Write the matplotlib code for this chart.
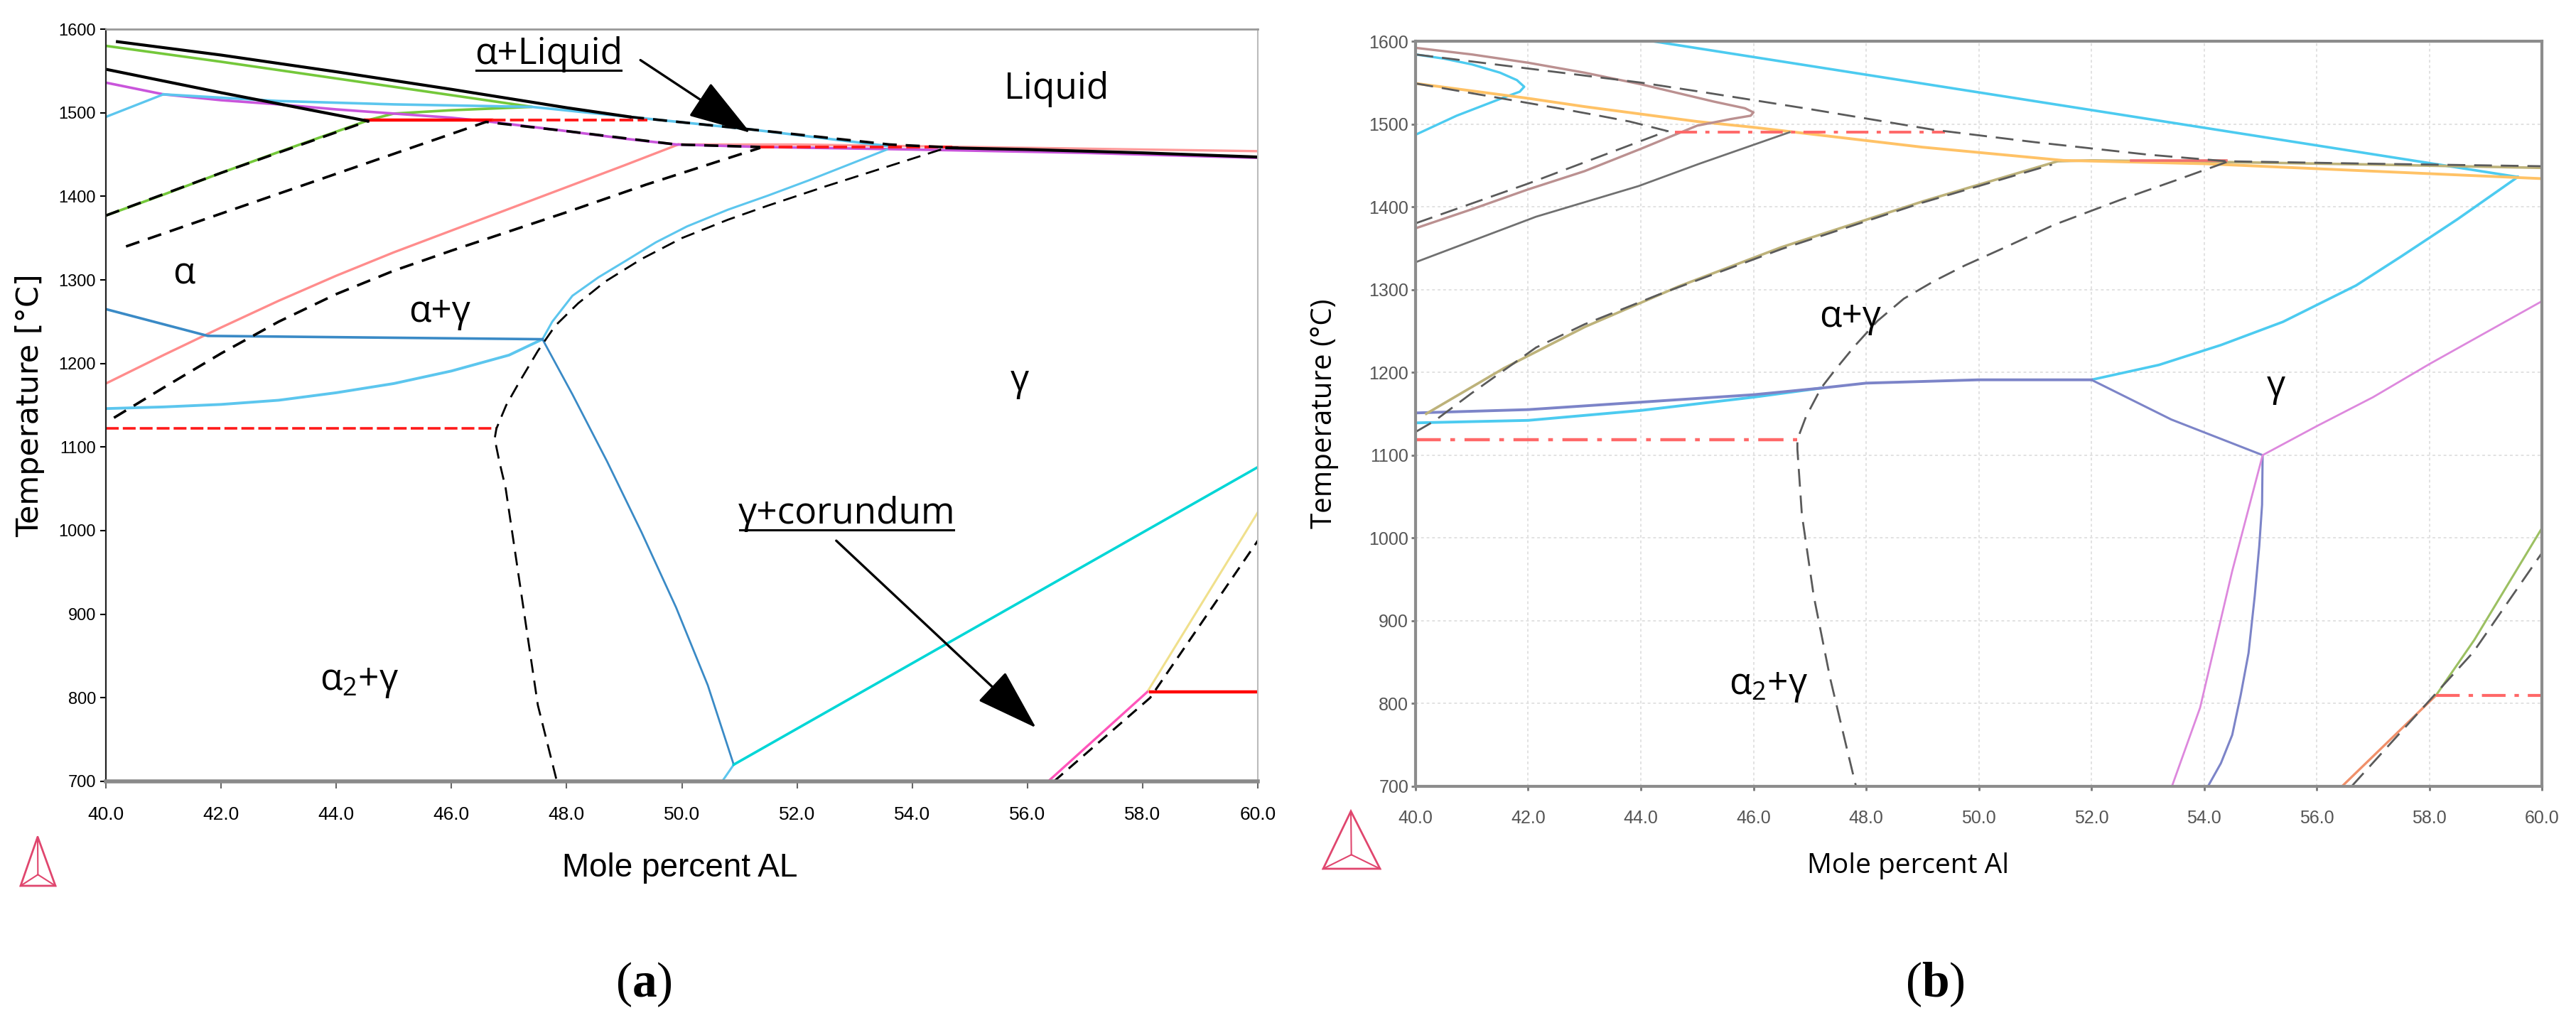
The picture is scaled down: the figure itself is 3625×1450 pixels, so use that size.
import numpy as np
import matplotlib.pyplot as plt
from matplotlib.lines import Line2D
from matplotlib.patches import Polygon

# fonts: labels in Open Sans, tick text narrow Arial-like
plt.rcParams['mathtext.fontset'] = 'custom'
plt.rcParams['mathtext.rm'] = 'Open Sans'
plt.rcParams['mathtext.it'] = 'Open Sans:italic'
plt.rcParams['mathtext.bf'] = 'Liberation Serif:bold'

# ---------------- data, panel (a) ----------------
x_ticks = [40, 42, 44, 46, 48, 50, 52, 54, 56, 58, 60]
x_ticklabels = ['40.0', '42.0', '44.0', '46.0', '48.0', '50.0', '52.0', '54.0', '56.0', '58.0', '60.0']
t_ticks = [700, 800, 900, 1000, 1100, 1200, 1300, 1400, 1500, 1600]
t_ticklabels = ['700', '800', '900', '1000', '1100', '1200', '1300', '1400', '1500', '1600']

a_liq_x = [40.2, 42, 44, 46, 48, 49.1]
a_liq_t = [1585, 1569, 1549, 1528, 1506, 1495]
a_liqdash_x = [49.1, 51.2, 53.6, 54.8]
a_liqdash_t = [1495, 1480, 1462, 1458]
a_flat_x = [54.6, 56, 58, 60]
a_flat_t = [1458, 1456, 1452, 1447]

a_green_x = [40, 42, 44, 46, 47.4, 46, 45, 44.6, 43, 42, 41, 40]
a_green_t = [1580, 1561, 1541, 1521, 1507, 1503, 1499, 1492, 1453, 1428, 1402, 1377]

a_black2_x = [40, 42, 44.55]
a_black2_t = [1552, 1524, 1490]
a_dash1_x = [40, 42, 44.55]
a_dash1_t = [1377, 1428, 1490]
a_dash2_x = [40.35, 43.54, 46.6, 48, 49.9, 51.36]
a_dash2_t = [1340, 1416, 1489, 1478, 1462, 1459]
a_dash3_x = [40.14, 41, 42, 43, 44, 45, 46, 47, 48, 49.38, 51.36]
a_dash3_t = [1135, 1171, 1212, 1250, 1283, 1311, 1335, 1358, 1381, 1414, 1458]
a_dash4_x = [54.5, 53.5, 52.5, 51.5, 50.8, 50.0, 49.3, 48.67, 48.2, 47.8, 47.5, 47.18, 46.95, 46.78,
             46.75, 46.83, 46.94, 47.22, 47.5, 47.83]
a_dash4_t = [1456, 1434, 1412, 1389, 1372, 1350, 1325, 1298, 1272, 1245, 1215, 1178, 1150, 1122,
             1110, 1083, 1051, 921, 791, 700]

a_mag_x = [40, 41, 42, 43, 44, 45, 46, 46.7, 48, 49, 49.9, 51.4, 54, 57, 60]
a_mag_t = [1536, 1522, 1515, 1510, 1504, 1499, 1494, 1489, 1478, 1469, 1462, 1459, 1456, 1452, 1446]

a_cyan1_x = [40, 41]
a_cyan1_t = [1495, 1522]
a_cyan2_x = [41, 43, 45, 47.4, 49.1, 51.2, 53.6]
a_cyan2_t = [1522, 1514, 1510, 1507, 1495, 1480, 1460]
a_cyan3_x = [53.56, 52.9, 52.2, 51.5, 50.8, 50.09, 49.55, 49.03, 48.55, 48.1, 47.75, 47.58]
a_cyan3_t = [1456, 1438, 1419, 1401, 1384, 1364, 1345, 1323, 1303, 1281, 1250, 1229]
a_cyan4_x = [40, 41, 42, 43, 44, 45, 46, 47, 47.58]
a_cyan4_t = [1146, 1148, 1151, 1156, 1165, 1176, 1191, 1210, 1229]
a_cyan5_x = [50.9, 50.7]
a_cyan5_t = [720, 700]

a_blue1_x = [40, 41.77, 47.58]
a_blue1_t = [1265, 1233, 1229]
a_blue2_x = [47.58, 48.1, 48.7, 49.3, 49.9, 50.45, 50.9]
a_blue2_t = [1229, 1163, 1083, 998, 908, 815, 720]
a_teal_x = [50.9, 60]
a_teal_t = [720, 1076]

a_pink_x = [40, 41, 42, 43, 44, 45, 46, 47, 48, 49, 49.94]
a_pink_t = [1176, 1210, 1243, 1275, 1305, 1333, 1359, 1385, 1411, 1437, 1462]
a_salmon_x = [49.94, 52, 54, 57, 60]
a_salmon_t = [1462, 1462, 1460, 1457, 1454]

a_red1_x = [44.5, 46.7]
a_red1_t = [1491, 1491]
a_red2_x = [46.7, 49.4]
a_red2_t = [1491, 1491]
a_red3_x = [51.36, 54.7]
a_red3_t = [1459, 1459]
a_red4_x = [40, 46.8]
a_red4_t = [1122, 1122]
a_red5_x = [58.13, 60]
a_red5_t = [807, 807]

a_hotpink_x = [56.36, 58.08]
a_hotpink_t = [700, 807]
a_dash5_x = [56.46, 58.13, 60]
a_dash5_t = [700, 800, 988]
a_khaki_x = [58.08, 60]
a_khaki_t = [807, 1022]

# ---------------- data, panel (b) ----------------
b_cyan1_x = [44.21, 59.57]
b_cyan1_t = [1600, 1436]
b_cyan2_x = [52.0, 53.2, 54.3, 55.4, 56.7, 57.5, 58.5, 59.57]
b_cyan2_t = [1191, 1209, 1233, 1261, 1305, 1340, 1385, 1436]
b_cyan3_x = [40, 40.5, 41, 41.5, 41.8, 41.93, 41.85, 41.53, 40.73, 40]
b_cyan3_t = [1584, 1579, 1572, 1562, 1553, 1545, 1539, 1531, 1510, 1487]
b_cyan4_x = [40, 42, 44, 46, 47.2]
b_cyan4_t = [1139, 1142, 1154, 1170, 1181]

b_slate1_x = [40, 42, 44, 46, 47.2, 48, 50, 52]
b_slate1_t = [1151, 1155, 1164, 1173, 1181, 1187, 1191, 1191]
b_slate2_x = [52, 53.42, 55.04, 55.03, 54.98, 54.9, 54.79, 54.65, 54.5, 54.3, 54.07]
b_slate2_t = [1191, 1143, 1100, 1040, 990, 930, 861, 810, 762, 728, 700]
b_orchid_x = [53.43, 53.93, 54.5, 55.04, 56, 57, 58, 59, 60]
b_orchid_t = [700, 795, 960, 1100, 1135, 1170, 1210, 1248, 1286]

b_olive_x = [40.19, 41.57, 43.01, 44.68, 46.49, 49.03, 51.4, 52, 54.4, 57, 60]
b_olive_t = [1150, 1205, 1255, 1304, 1351, 1407, 1455, 1456, 1454, 1451, 1447]
b_orange_x = [40, 41, 42, 43, 44, 45, 46, 47, 49, 51.5, 54, 56, 58, 60]
b_orange_t = [1549, 1540, 1531, 1521, 1512, 1503, 1496, 1488, 1472, 1456, 1452, 1446, 1440, 1434]
b_brown_x = [40, 41, 42, 43, 44, 45, 45.6, 45.95, 46.0, 45.85, 45.3, 44, 43, 42, 41, 40]
b_brown_t = [1374, 1397, 1421, 1443, 1470, 1498, 1506, 1510, 1514, 1519, 1527, 1548, 1562, 1574, 1584, 1592]
b_gray_x = [40, 42.14, 43.96, 45.04, 46.64]
b_gray_t = [1333, 1388, 1425, 1452, 1490]

b_dash1_x = [40, 42, 44.45]
b_dash1_t = [1380, 1428, 1491]
b_dash2_x = [40, 42.62, 43.26, 43.8, 44.5]
b_dash2_t = [1549, 1518, 1510, 1503, 1491]
b_dash3_x = [40, 42, 44, 45.15, 47, 49.2, 51, 53, 54.4, 57, 60]
b_dash3_t = [1584, 1567, 1550, 1538, 1518, 1493, 1478, 1463, 1455, 1452, 1449]
b_dash4_x = [40.0, 40.33, 41, 42.14, 43, 44.32, 46.5, 49, 51.3]
b_dash4_t = [1128, 1141, 1175, 1230, 1258, 1294, 1349, 1405, 1451]
b_dash5_x = [54.4, 53.5, 52.5, 51.33, 50.5, 49.75, 49.2, 48.67, 48.2, 47.8, 47.45, 47.2, 46.93, 46.78,
             46.78, 46.86, 47.07, 47.36, 47.65, 47.82]
b_dash5_t = [1454, 1432, 1408, 1378, 1352, 1329, 1310, 1289, 1262, 1232, 1203, 1181, 1146, 1119,
             1107, 1028, 930, 831, 748, 700]
b_dash6_x = [56.62, 58.78, 60]
b_dash6_t = [700, 862, 982]

b_red1_x = [44.6, 49.4]
b_red1_t = [1490, 1490]
b_red2_x = [40, 46.78]
b_red2_t = [1119, 1119]
b_red3_x = [52.7, 54.4]
b_red3_t = [1456, 1456]
b_red4_x = [58.12, 60]
b_red4_t = [810, 810]
b_salmon_x = [56.45, 58.12]
b_salmon_t = [700, 810]
b_green_x = [58.12, 58.8, 60]
b_green_t = [810, 877, 1012]

# figure
fig = plt.figure(figsize=(36.25, 14.5), dpi=100)
ax1 = fig.add_axes([0.0411, 0.2414, 0.4472, 0.7303])
ax2 = fig.add_axes([0.5495, 0.2366, 0.4373, 0.7234])

BD = (0, (5.5, 3.5))     # black dashes, panel a
RD = (0, (5, 1.6))       # red dashes, panel a
GD = (0, (9, 4.5))       # grey dashes, panel b
RDD = (0, (8, 3, 1.5, 3))  # red dash-dot, panel b

# ---- panel (a) curves ----
ax1.plot(a_pink_x, a_pink_t, color='#ff8c8c', lw=2.4)
ax1.plot(a_salmon_x, a_salmon_t, color='#ff9a9a', lw=2.4)
ax1.plot(a_green_x, a_green_t, color='#74c83a', lw=2.6)
ax1.plot(a_mag_x, a_mag_t, color='#c955db', lw=2.6)
ax1.plot(a_cyan1_x, a_cyan1_t, color='#5cc6ee', lw=2.4)
ax1.plot(a_cyan2_x, a_cyan2_t, color='#5cc6ee', lw=2.6)
ax1.plot(a_cyan3_x, a_cyan3_t, color='#5cc6ee', lw=2.2)
ax1.plot(a_cyan4_x, a_cyan4_t, color='#5cc6ee', lw=2.8)
ax1.plot(a_cyan5_x, a_cyan5_t, color='#5cc6ee', lw=2.2)
ax1.plot(a_blue1_x, a_blue1_t, color='#3a8ac6', lw=2.6)
ax1.plot(a_blue2_x, a_blue2_t, color='#3a8ac6', lw=2.0)
ax1.plot(a_teal_x, a_teal_t, color='#00d6d6', lw=2.6)
ax1.plot(a_khaki_x, a_khaki_t, color='#f0e08c', lw=2.2)
ax1.plot(a_hotpink_x, a_hotpink_t, color='#ff55bb', lw=2.4)

ax1.plot(a_red1_x, a_red1_t, color='#ff0000', lw=3.2)
ax1.plot(a_red2_x, a_red2_t, color='#ff1a1a', lw=2.8, linestyle=RD)
ax1.plot(a_red3_x, a_red3_t, color='#ff1a1a', lw=2.8, linestyle=RD)
ax1.plot(a_red4_x, a_red4_t, color='#ff1a1a', lw=2.6, linestyle=RD)
ax1.plot(a_red5_x, a_red5_t, color='#ff0000', lw=3.2)

ax1.plot(a_liq_x, a_liq_t, color='black', lw=3.0)
ax1.plot(a_black2_x, a_black2_t, color='black', lw=3.0)
ax1.plot(a_flat_x, a_flat_t, color='black', lw=3.0)
ax1.plot(a_liqdash_x, a_liqdash_t, color='black', lw=2.6, linestyle=BD)
ax1.plot(a_dash1_x, a_dash1_t, color='black', lw=2.6, linestyle=BD)
ax1.plot(a_dash2_x, a_dash2_t, color='black', lw=2.6, linestyle=BD)
ax1.plot(a_dash3_x, a_dash3_t, color='black', lw=2.6, linestyle=BD)
ax1.plot(a_dash4_x, a_dash4_t, color='black', lw=2.0, linestyle=(0, (7, 4)))
ax1.plot(a_dash5_x, a_dash5_t, color='black', lw=2.2, linestyle=BD)

# ---- panel (b) curves ----
ax2.grid(True, color='#e2e2e2', lw=1.4, linestyle=(0, (2, 2)))
ax2.set_axisbelow(True)

ax2.plot(b_cyan1_x, b_cyan1_t, color='#4ccbf0', lw=2.6)
ax2.plot(b_cyan2_x, b_cyan2_t, color='#4ccbf0', lw=2.6)
ax2.plot(b_cyan3_x, b_cyan3_t, color='#4ccbf0', lw=2.4)
ax2.plot(b_cyan4_x, b_cyan4_t, color='#4ccbf0', lw=2.8)
ax2.plot(b_slate1_x, b_slate1_t, color='#7c84c8', lw=2.8)
ax2.plot(b_slate2_x, b_slate2_t, color='#7c84c8', lw=2.2)
ax2.plot(b_orchid_x, b_orchid_t, color='#dd88dd', lw=2.0)
ax2.plot(b_olive_x, b_olive_t, color='#bdb27a', lw=2.6)
ax2.plot(b_orange_x, b_orange_t, color='#ffc266', lw=2.8)
ax2.plot(b_brown_x, b_brown_t, color='#bb9090', lw=2.4)
ax2.plot(b_gray_x, b_gray_t, color='#707070', lw=2.0)
ax2.plot(b_salmon_x, b_salmon_t, color='#f0906a', lw=2.4)
ax2.plot(b_green_x, b_green_t, color='#9cc062', lw=2.2)

ax2.plot(b_red1_x, b_red1_t, color='#ff6868', lw=2.8, linestyle=RDD)
ax2.plot(b_red2_x, b_red2_t, color='#ff6868', lw=3.2, linestyle=RDD)
ax2.plot(b_red3_x, b_red3_t, color='#f07070', lw=2.6)
ax2.plot(b_red4_x, b_red4_t, color='#ff6868', lw=3.0, linestyle=RDD)

for dx, dt in [(b_dash1_x, b_dash1_t), (b_dash2_x, b_dash2_t), (b_dash3_x, b_dash3_t),
               (b_dash4_x, b_dash4_t), (b_dash5_x, b_dash5_t), (b_dash6_x, b_dash6_t)]:
    ax2.plot(dx, dt, color='#5a5a5a', lw=2.0, linestyle=GD)

# ---- axes styling ----
narrow = ['Liberation Sans Narrow', 'Liberation Sans']
for ax in (ax1, ax2):
    ax.set_xlim(40, 60)
    ax.set_ylim(700, 1600)
    ax.set_xticks(x_ticks)
    ax.set_yticks(t_ticks)

ax1.set_xticklabels(x_ticklabels, fontfamily=narrow, fontsize=19)
ax1.set_yticklabels(t_ticklabels, fontfamily=narrow, fontsize=17)
ax1.tick_params(axis='y', length=6, width=1.5, pad=4, color='black')
ax1.tick_params(axis='x', length=7, width=1.5, pad=18, color='#666666')
ax1.spines['left'].set_color('#222222')
ax1.spines['left'].set_linewidth(1.6)
ax1.spines['bottom'].set_color('#8a8a8a')
ax1.spines['bottom'].set_linewidth(4)
ax1.spines['top'].set_color('#999999')
ax1.spines['top'].set_linewidth(2)
ax1.spines['right'].set_color('#bbbbbb')
ax1.spines['right'].set_linewidth(1.5)
ax1.set_ylabel('Temperature [°C]', fontfamily='DejaVu Sans', fontsize=31)
ax1.yaxis.set_label_coords(-0.053, 0.5)
ax1.set_xlabel('Mole percent AL', fontfamily=narrow, fontsize=33)
ax1.xaxis.set_label_coords(0.498, -0.094)

ax2.set_xticklabels(x_ticklabels, fontfamily=narrow, fontsize=18, color='#555555')
ax2.set_yticklabels(t_ticklabels, fontfamily=narrow, fontsize=18, color='#555555')
ax2.tick_params(axis='both', length=4, width=2, color='#777777')
ax2.tick_params(axis='x', pad=20)
ax2.tick_params(axis='y', pad=3)
for s in ax2.spines.values():
    s.set_color('#8c8c8c')
    s.set_linewidth(3)
ax2.set_ylabel('Temperature (°C)', fontfamily='Open Sans', fontsize=29)
ax2.yaxis.set_label_coords(-0.068, 0.5)
ax2.set_xlabel('Mole percent Al', fontfamily='Open Sans', fontsize=28)
ax2.xaxis.set_label_coords(0.437, -0.089)

# ---- phase labels ----
lab = dict(fontfamily='Open Sans', fontsize=37, ha='center', va='center')
t_aliq = ax1.text(47.69, 1570, 'α+Liquid', **lab)
ax1.text(56.5, 1528, 'Liquid', **lab)
ax1.text(41.35, 1307, 'α', **lab)
ax1.text(45.8, 1261, 'α+γ', **lab)
ax1.text(55.87, 1179, 'γ', **lab)
t_cor = ax1.text(52.86, 1020, 'γ+corundum', **lab)
ax1.text(44.4, 819, 'α$_2$+γ', **lab)

ax2.text(47.72, 1267, 'α+γ', **lab)
ax2.text(55.28, 1183, 'γ', **lab)
ax2.text(46.27, 821, 'α$_2$+γ', **lab)

arrow = dict(arrowstyle='-|>,head_length=1.4,head_width=0.45', color='black',
             lw=2.4, mutation_scale=40, shrinkA=0, shrinkB=0)
ax1.annotate('', xy=(51.19, 1476), xytext=(49.28, 1563), arrowprops=arrow)
ax1.annotate('', xy=(56.15, 764), xytext=(52.68, 988), arrowprops=arrow)

# panel captions
cap = dict(fontfamily='Liberation Serif', fontsize=50, ha='center', va='center')
fig.text(0.25, 0.044, r'($\mathbf{a}$)', **cap)
fig.text(0.7512, 0.044, r'($\mathbf{b}$)', **cap)

# small software logos in the lower left corners
W, H = 3625.0, 1450.0
for apex, left, right in [((53, 1178), (29, 1247), (78, 1247)),
                          ((1901, 1142), (1862, 1223), (1942, 1223))]:
    pts = np.array([apex, left, right], dtype=float)
    pts[:, 0] = pts[:, 0] / W
    pts[:, 1] = 1 - pts[:, 1] / H
    fig.add_artist(Polygon(pts, closed=True, fill=False, edgecolor='#e0466e',
                           lw=2, transform=fig.transFigure))
    cx, cy = pts[:, 0].mean(), pts[:, 1].mean() - 0.005
    for p in pts:
        fig.add_artist(Line2D([cx, p[0]], [cy, p[1]], color='#e0466e', lw=1.5,
                              transform=fig.transFigure))

# underline the two annotated labels
fig.canvas.draw()
rend = fig.canvas.get_renderer()
inv = fig.transFigure.inverted()
for t in (t_aliq, t_cor):
    bb = t.get_window_extent(renderer=rend)
    p0 = inv.transform((bb.x0 + 2, bb.y0 + 3))
    p1 = inv.transform((bb.x1 - 2, bb.y0 + 3))
    fig.add_artist(Line2D([p0[0], p1[0]], [p0[1], p1[1]], color='black', lw=2.2,
                          transform=fig.transFigure))

fig.savefig('out.png', dpi=100)
